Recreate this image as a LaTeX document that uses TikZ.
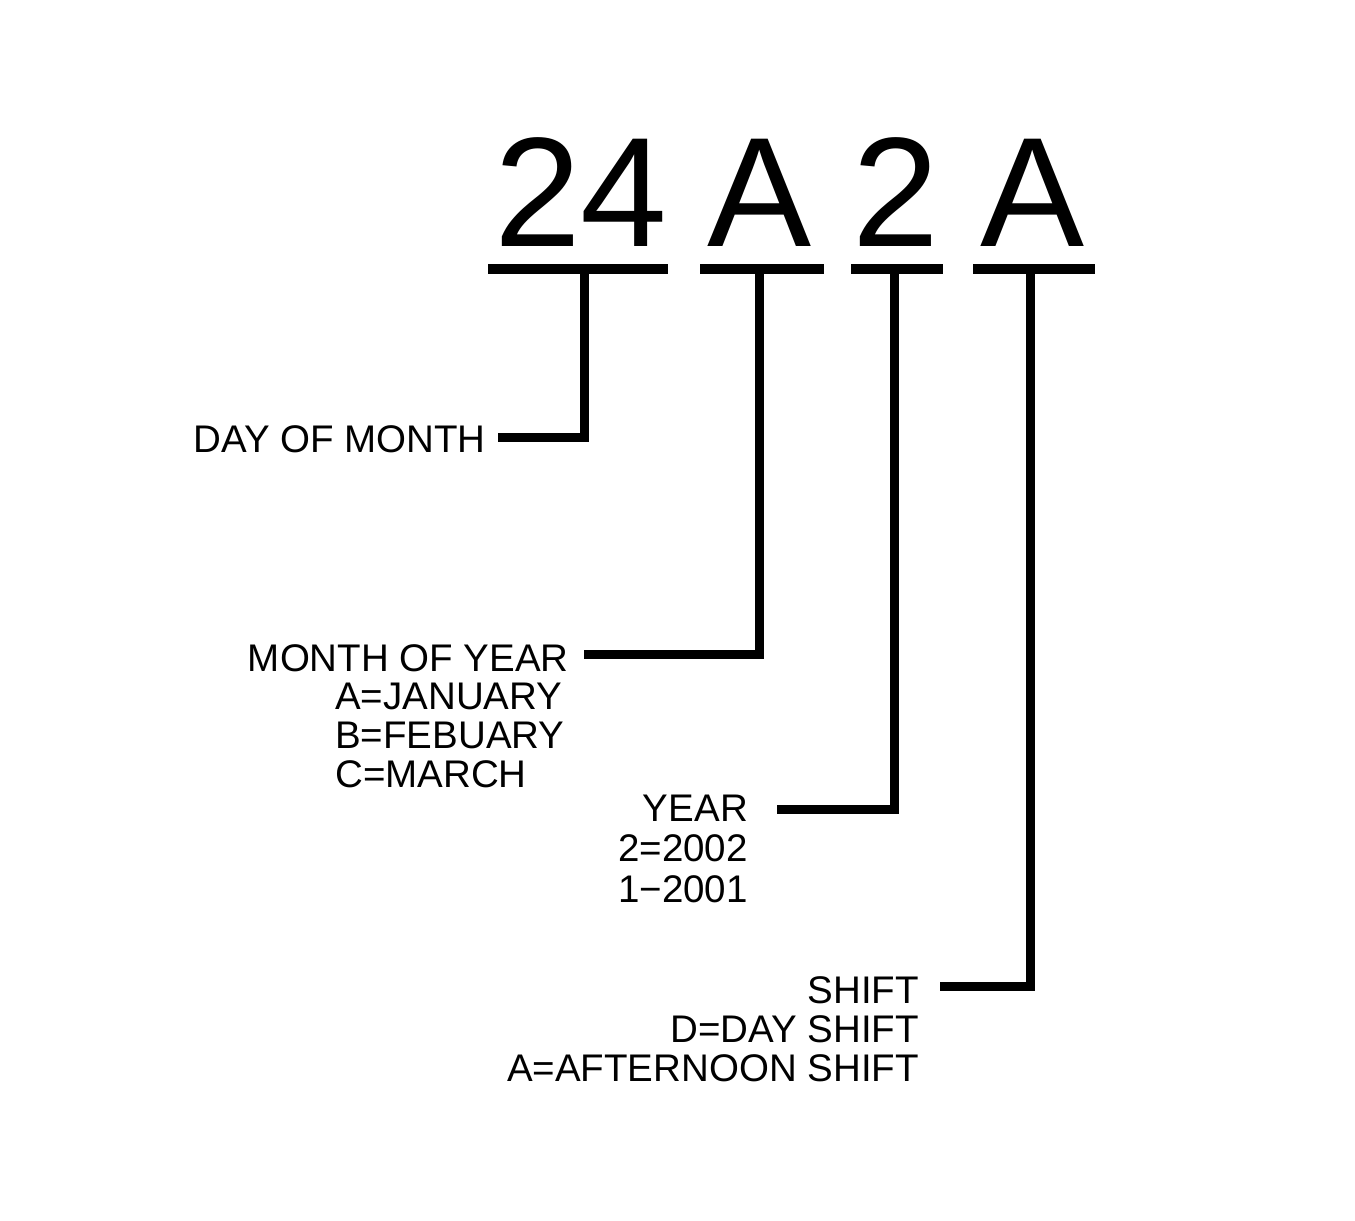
\documentclass[tikz,border=0pt]{standalone}
\usepackage{fontspec}
\setmainfont{Liberation Sans}
\begin{document}
\begin{tikzpicture}[x=1pt,y=-1pt,
  big/.style={inner sep=0pt,anchor=base,font=\fontsize{156}{160}\selectfont},
  lbl/.style={inner sep=0pt,font=\fontsize{38.5}{39}\selectfont},
  uline/.style={line width=10pt,line cap=butt},
  conn/.style={line width=9pt,line cap=butt,line join=miter}]
\useasboundingbox (0,0) rectangle (1355,1221);
% big characters
\node[big] (g1) at (581,246) {24};
\node[big] (g2) at (759.5,246) {A};
\node[big] (g3) at (896,246) {2};
\node[big] (g4) at (1033,246) {A};
% underlines
\coordinate (u1l) at (488,269); \coordinate (u1r) at (668,269); \coordinate (u1) at (584.5,269);
\coordinate (u2l) at (700,269); \coordinate (u2r) at (824,269); \coordinate (u2) at (759.5,269);
\coordinate (u3l) at (851,269); \coordinate (u3r) at (943,269); \coordinate (u3) at (894.5,269);
\coordinate (u4l) at (973,269); \coordinate (u4r) at (1095,269); \coordinate (u4) at (1030.5,269);
\draw[uline] (u1l) -- (u1r);
\draw[uline] (u2l) -- (u2r);
\draw[uline] (u3l) -- (u3r);
\draw[uline] (u4l) -- (u4r);
% labels (base anchor of a multi-line node = baseline of its last line)
\node[lbl,anchor=base east] (day) at (486,452) {DAY OF MONTH};
\node[lbl,anchor=base east] (month) at (569,671) {MONTH OF YEAR};
\node[lbl,anchor=base west,align=left] (monthlist) at (335,787) {A=JANUARY\\B=FEBUARY\\C=MARCH};
\node[lbl,anchor=base east,align=right,font=\fontsize{38.5}{40.5}\selectfont] (year) at (748,902) {YEAR\\2=2002\\1−2001};
\node[lbl,anchor=base east,align=right] (shift) at (919,1081) {SHIFT\\D=DAY SHIFT\\A=AFTERNOON SHIFT};
% connector start points
\coordinate (c1) at (498,437);
\coordinate (c2) at (584,654);
\coordinate (c3) at (777,809);
\coordinate (c4) at (940,986);
\draw[conn] (c1) -| (u1);
\draw[conn] (c2) -| (u2);
\draw[conn] (c3) -| (u3);
\draw[conn] (c4) -| (u4);
\end{tikzpicture}
\end{document}
